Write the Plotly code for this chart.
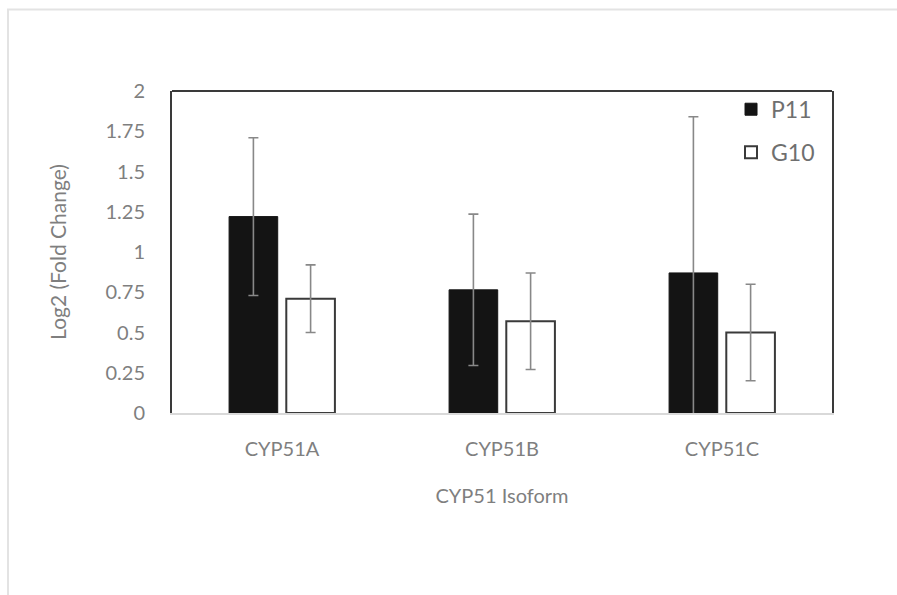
import plotly.graph_objects as go

categories = ["CYP51A", "CYP51B", "CYP51C"]
p11_values = [1.22, 0.765, 0.87]
p11_errors = [0.49, 0.47, 0.97]
g10_values = [0.71, 0.57, 0.50]
g10_errors = [0.21, 0.30, 0.30]
y_ticks = [0, 0.25, 0.5, 0.75, 1, 1.25, 1.5, 1.75, 2]
y_tick_labels = ["0", "0.25", "0.5", "0.75", "1", "1.25", "1.5", "1.75", "2"]

FONT = "Lato, 'Open Sans', sans-serif"
GRAY = "#7f7f7f"
DARK = "#3a3a3a"

fig = go.Figure()
fig.add_trace(go.Bar(
    name="P11", x=categories, y=p11_values, legendgroup="a",
    marker=dict(color="#141414", line=dict(color="#141414", width=1)),
    error_y=dict(type="data", array=p11_errors, visible=True,
                 color="#888888", thickness=1.6, width=5),
))
fig.add_trace(go.Bar(
    name="G10", x=categories, y=g10_values, legendgroup="b",
    marker=dict(color="white", line=dict(color=DARK, width=2)),
    error_y=dict(type="data", array=g10_errors, visible=True,
                 color="#888888", thickness=1.6, width=5),
))

fig.update_layout(
    width=897, height=595,
    margin=dict(l=172, r=65, t=91, b=182),
    paper_bgcolor="white", plot_bgcolor="white",
    barmode="group", bargap=0.48, bargroupgap=0.15,
    font=dict(family=FONT, color=GRAY, size=20),
    showlegend=True,
    legend=dict(x=0.847, y=1.01, xanchor="left", yanchor="top",
                bgcolor="rgba(0,0,0,0)", font=dict(size=23, color="#6f6f6f"),
                traceorder="grouped", tracegroupgap=10, itemwidth=30),
    xaxis=dict(
        showline=True, linecolor="#d9d9d9", linewidth=1.5, mirror=False,
        ticks="", showgrid=False, tickfont=dict(size=20, color=GRAY),
        ticklabelstandoff=17,
        title=dict(text="CYP51 Isoform", font=dict(size=20, color=GRAY), standoff=30),
    ),
    yaxis=dict(
        range=[0, 2], tickvals=y_ticks, ticktext=y_tick_labels,
        showline=True, linecolor=DARK, linewidth=2, mirror=True,
        showgrid=False, zeroline=False, ticks="",
        tickfont=dict(size=20, color=GRAY), ticklabelstandoff=21,
        title=dict(text="Log2 (Fold Change)", font=dict(size=21, color=GRAY), standoff=33),
    ),
    shapes=[
        dict(type="line", xref="paper", yref="paper", x0=0, x1=1, y0=1, y1=1,
             line=dict(color=DARK, width=2)),
        dict(type="rect", xref="paper", yref="paper",
             x0=-0.2485, x1=1.2, y0=-0.7, y1=1.253,
             line=dict(color="#e3e3e3", width=2), layer="below"),
    ],
)

fig.write_html("out.html")
